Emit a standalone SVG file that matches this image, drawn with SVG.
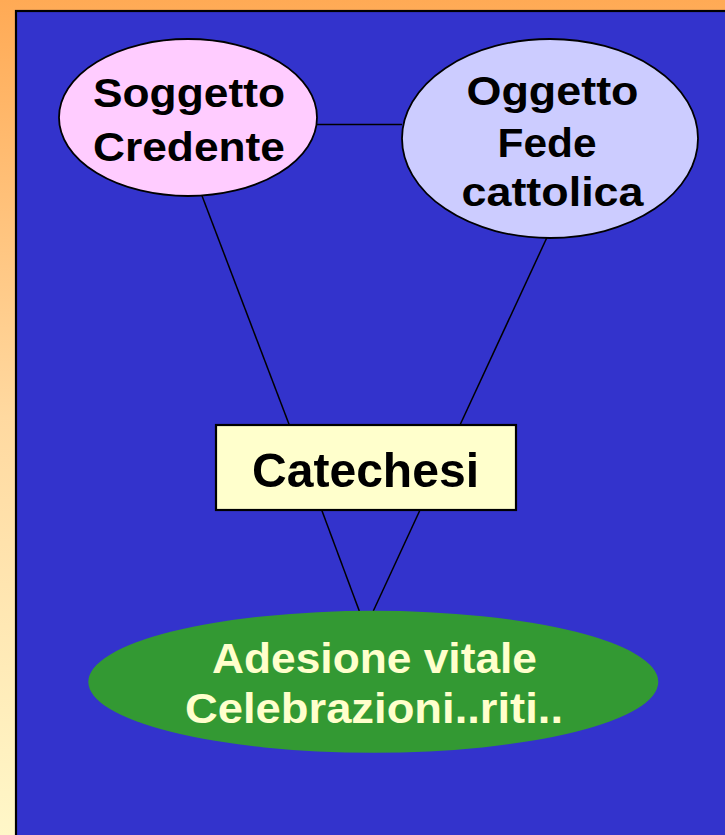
<svg xmlns="http://www.w3.org/2000/svg" width="725" height="835" viewBox="0 0 725 835">
<defs>
<linearGradient id="bg" x1="0" y1="0" x2="0" y2="1">
<stop offset="0" stop-color="#FFAA55"/>
<stop offset="0.5" stop-color="#FFD9A0"/>
<stop offset="1" stop-color="#FFF7C8"/>
</linearGradient>
<style>
.t{font-family:"Liberation Sans",Arial,sans-serif;font-weight:bold;text-anchor:middle}
.dark{fill:#000000}
.light{fill:#FFFFCC}
.edge{stroke:#000000;stroke-width:1.5;fill:none}
.node{stroke:#000000;stroke-width:1.8}
</style>
</defs>
<rect x="0" y="0" width="725" height="835" fill="url(#bg)"/>
<rect x="16" y="11" width="720" height="840" fill="#3333CC" stroke="#000000" stroke-width="2.2"/>
<g id="connectors">
<line class="edge" x1="317" y1="124.5" x2="402" y2="124.5"/>
<line class="edge" x1="201.7" y1="195" x2="289.3" y2="425"/>
<line class="edge" x1="546.7" y1="238" x2="460" y2="425"/>
<line class="edge" x1="321.7" y1="510" x2="359.3" y2="611"/>
<line class="edge" x1="420" y1="510" x2="373.3" y2="611"/>
</g>
<g id="soggetto">
<ellipse class="node" cx="188" cy="117.5" rx="129" ry="78.5" fill="#FFCCFF"/>
<text class="t dark" x="189" y="107" font-size="40" textLength="192" lengthAdjust="spacingAndGlyphs">Soggetto</text>
<text class="t dark" x="189" y="160.5" font-size="40" textLength="192" lengthAdjust="spacingAndGlyphs">Credente</text>
</g>
<g id="oggetto">
<ellipse class="node" cx="550" cy="138.5" rx="148" ry="99.5" fill="#CCCCFF"/>
<text class="t dark" x="552.5" y="105" font-size="40" textLength="172" lengthAdjust="spacingAndGlyphs">Oggetto</text>
<text class="t dark" x="547" y="157" font-size="40" textLength="99" lengthAdjust="spacingAndGlyphs">Fede</text>
<text class="t dark" x="552.5" y="206" font-size="40" textLength="182" lengthAdjust="spacingAndGlyphs">cattolica</text>
</g>
<g id="catechesi">
<rect x="216" y="425" width="300" height="85" fill="#FFFFCC" stroke="#000000" stroke-width="2.2"/>
<text class="t dark" x="365.5" y="487" font-size="48" textLength="227" lengthAdjust="spacingAndGlyphs">Catechesi</text>
</g>
<g id="adesione">
<ellipse cx="373.3" cy="681.8" rx="285" ry="71" fill="#339933"/>
<text class="t light" x="374.5" y="673" font-size="42" textLength="325" lengthAdjust="spacingAndGlyphs">Adesione vitale</text>
<text class="t light" x="374" y="723" font-size="42" textLength="378" lengthAdjust="spacingAndGlyphs">Celebrazioni..riti..</text>
</g>
</svg>
